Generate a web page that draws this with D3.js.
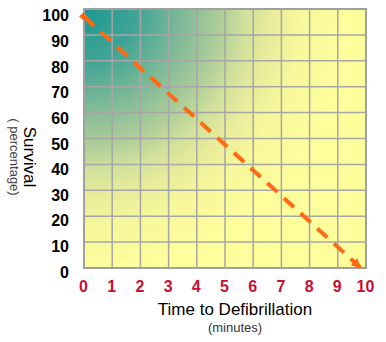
<!DOCTYPE html>
<html>
<head>
<meta charset="utf-8">
<script src="https://cdn.jsdelivr.net/npm/d3@7/dist/d3.min.js"></script>
<style>
  html, body { margin: 0; padding: 0; background: #ffffff; }
  svg { display: block; }
  text { font-family: "Liberation Sans", Arial, sans-serif; }
</style>
</head>
<body>
<script>
// Minutes to defibrillation (x) and survival percentage ticks (y)
const minuteTicks = [0, 1, 2, 3, 4, 5, 6, 7, 8, 9, 10];
const survivalTicks = [0, 10, 20, 30, 40, 50, 60, 70, 80, 90, 100];
// Trend line: survival falls roughly 10% for every minute of delay
const trendMinutes = [0, 9.8];
const trendSurvival = [97, 0.2];

const W = 386, H = 342;
const svg = d3.select("body").append("svg").attr("width", W).attr("height", H);

const x = d3.scaleLinear().domain([0, 10]).range([84, 366]);
const y = d3.scaleLinear().domain([0, 100]).range([268, 9]);
// tick labels sit a little below their grid lines
const yLab = d3.scaleLinear().domain([0, 100]).range([272, 15.5]);

// background gradient: teal in the top-left corner fading to pale yellow
const defs = svg.append("defs");
const grad = defs.append("radialGradient")
  .attr("id", "bg").attr("gradientUnits", "userSpaceOnUse")
  .attr("cx", x(0)).attr("cy", y(100)).attr("r", 262);
[[0, "#1a9892"], [0.2, "#40a495"], [0.42, "#8ebf98"], [0.52, "#adcd99"],
 [0.62, "#d2e19b"], [0.72, "#eaec9b"], [0.83, "#f7f79b"], [1, "#fefe9d"]]
  .forEach(([o, c]) => grad.append("stop").attr("offset", o).attr("stop-color", c));

svg.append("rect")
  .attr("x", x(0)).attr("y", y(100))
  .attr("width", x(10) - x(0)).attr("height", y(0) - y(100))
  .attr("fill", "url(#bg)");

// grid
const grid = svg.append("g").attr("stroke", "#a6a6a6").attr("stroke-width", 1.5);
grid.selectAll(".v").data(minuteTicks).join("line")
  .attr("x1", d => x(d)).attr("x2", d => x(d))
  .attr("y1", y(0)).attr("y2", y(100));
grid.selectAll(".h").data(survivalTicks).join("line")
  .attr("x1", x(0)).attr("x2", x(10))
  .attr("y1", d => y(d)).attr("y2", d => y(d));
svg.append("rect")
  .attr("x", x(0)).attr("y", y(100))
  .attr("width", x(10) - x(0)).attr("height", y(0) - y(100))
  .attr("fill", "none").attr("stroke", "#a0a0a0").attr("stroke-width", 2);

// markers for the trend line
defs.append("marker").attr("id", "arrow")
  .attr("viewBox", "0 0 10 10").attr("refX", 9).attr("refY", 5)
  .attr("markerWidth", 2.4).attr("markerHeight", 2.4)
  .attr("markerUnits", "strokeWidth").attr("orient", "auto")
  .append("path").attr("d", "M0,0 L10,5 L0,10 Z").attr("fill", "#ff6a10");
defs.append("marker").attr("id", "sq")
  .attr("viewBox", "0 0 10 10").attr("refX", 6).attr("refY", 5)
  .attr("markerWidth", 1.6).attr("markerHeight", 1.6)
  .attr("markerUnits", "strokeWidth").attr("orient", "auto")
  .append("rect").attr("width", 10).attr("height", 10).attr("fill", "#ff6a10");

const trend = trendMinutes.map((m, i) => [m, trendSurvival[i]]);
svg.append("path")
  .datum(trend)
  .attr("d", d3.line().x(d => x(d[0])).y(d => y(d[1])))
  .attr("fill", "none").attr("stroke", "#ff6a10")
  .attr("stroke-width", 4).attr("stroke-dasharray", "13.5 9")
  .attr("marker-start", "url(#sq)").attr("marker-end", "url(#arrow)");

// y tick labels
svg.append("g").selectAll("text").data(survivalTicks).join("text")
  .attr("x", 69).attr("y", d => yLab(d)).attr("dy", "0.36em")
  .attr("text-anchor", "end")
  .attr("font-size", 16).attr("font-weight", "bold").attr("fill", "#000")
  .text(d => d);

// x tick labels
svg.append("g").selectAll("text").data(minuteTicks).join("text")
  .attr("x", d => x(d) - 0.5).attr("y", 292)
  .attr("text-anchor", "middle")
  .attr("font-size", 16).attr("font-weight", "bold").attr("fill", "#c8102e")
  .text(d => d);

// axis titles
svg.append("text")
  .attr("transform", "translate(24,157) rotate(90)")
  .attr("text-anchor", "middle").attr("font-size", 17).attr("fill", "#000")
  .text("Survival");
svg.append("text")
  .attr("transform", "translate(10,157) rotate(90)")
  .attr("text-anchor", "middle").attr("font-size", 13).attr("fill", "#444")
  .text("( percentage)");
svg.append("text")
  .attr("x", 235).attr("y", 315)
  .attr("text-anchor", "middle").attr("font-size", 17).attr("fill", "#000")
  .text("Time to Defibrillation");
svg.append("text")
  .attr("x", 235).attr("y", 332)
  .attr("text-anchor", "middle").attr("font-size", 13).attr("fill", "#333")
  .text("(minutes)");
</script>
</body>
</html>
